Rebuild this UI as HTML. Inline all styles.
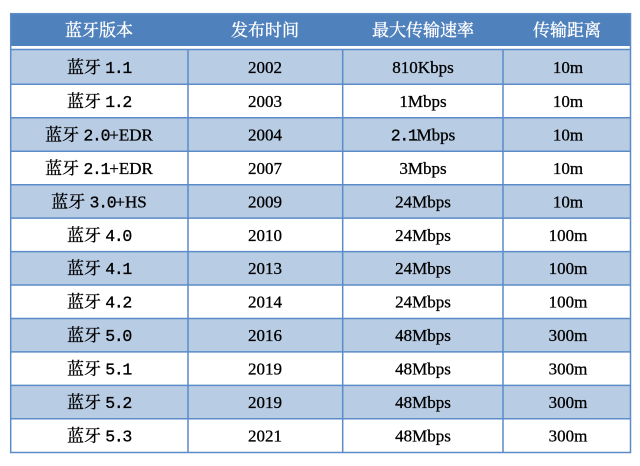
<!DOCTYPE html>
<html><head><meta charset="utf-8"><style>
html,body{margin:0;padding:0;background:#fff;width:640px;height:466px;overflow:hidden}
svg{display:block}
.h{font-family:"Liberation Serif","Noto Serif CJK SC",serif;font-size:17px;fill:#fff;stroke:#fff;stroke-width:0.35}
.t{font-family:"Liberation Serif","Noto Serif CJK SC",serif;font-size:17px;fill:#000;stroke:#000;stroke-width:0.3}
.m{font-family:"Liberation Mono","Noto Serif CJK SC",monospace;font-size:16.5px;letter-spacing:-1.3px}
</style></head><body>
<svg width="640" height="466" viewBox="0 0 640 466" xmlns="http://www.w3.org/2000/svg">
<rect x="10" y="13" width="621" height="33" fill="#4f81bd"/>
<rect x="10" y="46" width="621" height="3" fill="#fff"/>
<g fill="#b8cce4">
<rect x="10" y="49" width="621" height="35.3"/>
<rect x="10" y="117.8" width="621" height="33.4"/>
<rect x="10" y="184.7" width="621" height="33.4"/>
<rect x="10" y="251.6" width="621" height="33.4"/>
<rect x="10" y="318.5" width="621" height="33.4"/>
<rect x="10" y="385.4" width="621" height="33.4"/>
</g>
<g stroke="#5b8cc8" stroke-width="1.5" fill="none">
<line x1="10" y1="49.5" x2="631" y2="49.5"/>
<line x1="10" y1="84.3" x2="631" y2="84.3"/>
<line x1="10" y1="117.8" x2="631" y2="117.8"/>
<line x1="10" y1="151.2" x2="631" y2="151.2"/>
<line x1="10" y1="184.7" x2="631" y2="184.7"/>
<line x1="10" y1="218.1" x2="631" y2="218.1"/>
<line x1="10" y1="251.6" x2="631" y2="251.6"/>
<line x1="10" y1="285" x2="631" y2="285"/>
<line x1="10" y1="318.5" x2="631" y2="318.5"/>
<line x1="10" y1="351.9" x2="631" y2="351.9"/>
<line x1="10" y1="385.4" x2="631" y2="385.4"/>
<line x1="10" y1="418.8" x2="631" y2="418.8"/>
<line x1="188" y1="49" x2="188" y2="452.5"/>
<line x1="342.7" y1="49" x2="342.7" y2="452.5"/>
<line x1="503" y1="49" x2="503" y2="452.5"/>
<rect x="10.7" y="13.7" width="619.8" height="438.8"/>
</g>
<g class="h" text-anchor="middle">
<text x="99" y="36">蓝牙版本</text>
<text x="265" y="36">发布时间</text>
<text x="423" y="36">最大传输速率</text>
<text x="567" y="36">传输距离</text>
</g>
<g class="t" text-anchor="middle">
<text x="99" y="73">蓝牙 <tspan class="m">1.1</tspan></text>
<text x="265" y="73">2002</text><text x="423" y="73">810Kbps</text><text x="568" y="73">10m</text>
<text x="99" y="107">蓝牙 <tspan class="m">1.2</tspan></text>
<text x="265" y="107">2003</text><text x="423" y="107">1Mbps</text><text x="568" y="107">10m</text>
<text x="99" y="140.5">蓝牙 <tspan class="m">2.0</tspan>+EDR</text>
<text x="265" y="140.5">2004</text><text x="423" y="140.5"><tspan class="m">2.1</tspan>Mbps</text><text x="568" y="140.5">10m</text>
<text x="99" y="174">蓝牙 <tspan class="m">2.1</tspan>+EDR</text>
<text x="265" y="174">2007</text><text x="423" y="174">3Mbps</text><text x="568" y="174">10m</text>
<text x="99" y="207.5">蓝牙 <tspan class="m">3.0</tspan>+HS</text>
<text x="265" y="207.5">2009</text><text x="423" y="207.5">24Mbps</text><text x="568" y="207.5">10m</text>
<text x="99" y="241">蓝牙 <tspan class="m">4.0</tspan></text>
<text x="265" y="241">2010</text><text x="423" y="241">24Mbps</text><text x="568" y="241">100m</text>
<text x="99" y="274">蓝牙 <tspan class="m">4.1</tspan></text>
<text x="265" y="274">2013</text><text x="423" y="274">24Mbps</text><text x="568" y="274">100m</text>
<text x="99" y="307.5">蓝牙 <tspan class="m">4.2</tspan></text>
<text x="265" y="307.5">2014</text><text x="423" y="307.5">24Mbps</text><text x="568" y="307.5">100m</text>
<text x="99" y="341">蓝牙 <tspan class="m">5.0</tspan></text>
<text x="265" y="341">2016</text><text x="423" y="341">48Mbps</text><text x="568" y="341">300m</text>
<text x="99" y="374.5">蓝牙 <tspan class="m">5.1</tspan></text>
<text x="265" y="374.5">2019</text><text x="423" y="374.5">48Mbps</text><text x="568" y="374.5">300m</text>
<text x="99" y="408">蓝牙 <tspan class="m">5.2</tspan></text>
<text x="265" y="408">2019</text><text x="423" y="408">48Mbps</text><text x="568" y="408">300m</text>
<text x="99" y="441.5">蓝牙 <tspan class="m">5.3</tspan></text>
<text x="265" y="441.5">2021</text><text x="423" y="441.5">48Mbps</text><text x="568" y="441.5">300m</text>
</g>
</svg>
</body></html>
